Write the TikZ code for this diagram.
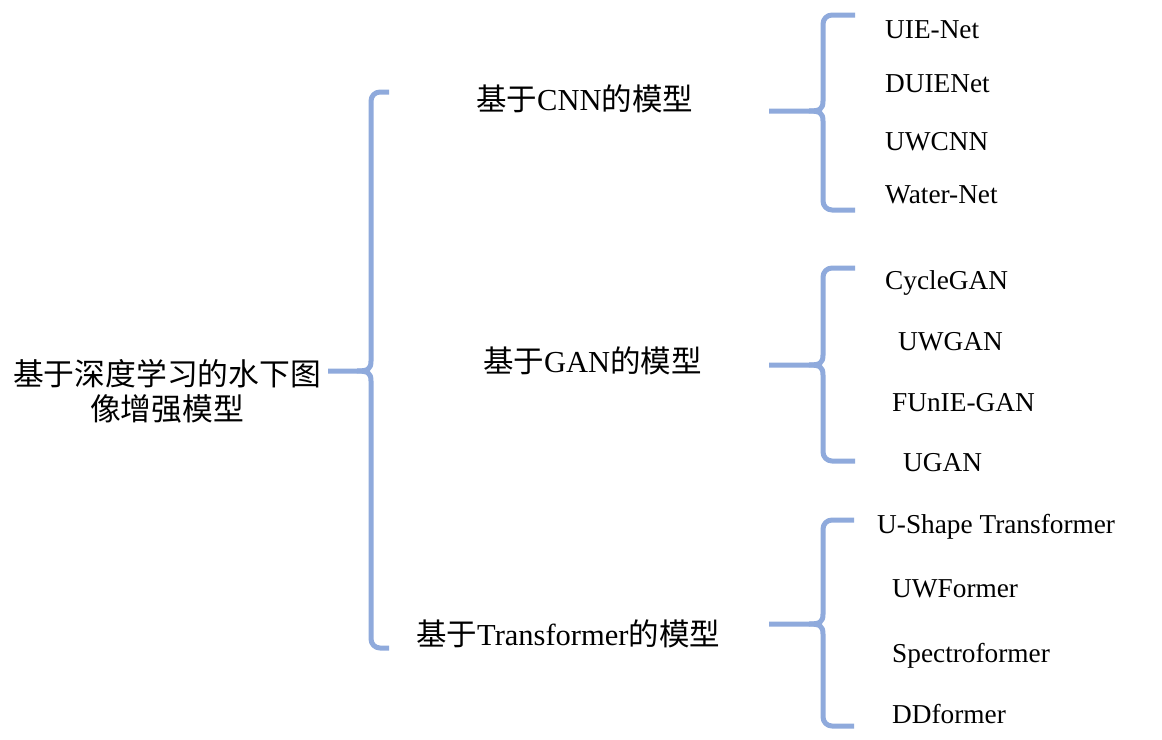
\documentclass[tikz,border=0pt]{standalone}
\usepackage{fontspec}
\setmainfont{Liberation Serif}
\newfontfamily\cjk{Noto Sans CJK SC}
\begin{document}
\begin{tikzpicture}[x=1pt,y=-1pt,
  bracestyle/.style={draw=bracecol,line width=5pt,line cap=butt,line join=round},
  mid/.style={font=\fontsize{30.5}{36}\selectfont,inner sep=0pt,anchor=west,text height=23pt,text depth=7pt},
  leaf/.style={font=\fontsize{27.3}{32}\selectfont,inner sep=0pt,anchor=west,text height=20pt,text depth=6pt},
  rootstyle/.style={font=\fontsize{30.8}{35}\selectfont,inner sep=0pt,align=center}]
\definecolor{bracecol}{RGB}{143,170,220}
\useasboundingbox (0,0) rectangle (1162,739);
\fill[white] (0,0) rectangle (1162,739);
% brace drawing macro: #1 name, #2 stem x, #3 vertical x, #4 top, #5 mid, #6 bottom, #7 end x
\newcommand\mybrace[7]{%
  \coordinate (#1-stem) at (#2,#5);
  \coordinate (#1-cusp) at (#3,#5);
  \coordinate (#1-top) at (#7,#4);
  \coordinate (#1-bot) at (#7,#6);
  \draw[bracestyle,rounded corners=9pt] (#1-top) -- (#3,#4) -- (#3,#5-10);
  \draw[bracestyle,rounded corners=9pt] (#1-bot) -- (#3,#6) -- (#3,#5+10);
  \draw[bracestyle] (#3,#5-10) .. controls (#3,#5-2) and (#3-3,#5) .. (#3-14,#5) -- (#1-stem);
  \draw[bracestyle] (#3,#5+10) .. controls (#3,#5+2) and (#3-3,#5) .. (#3-14,#5);
}
% root
\node[rootstyle] (root) at (167,391) {{\cjk 基于深度学习的水下图}\\{\cjk 像增强模型}};
\mybrace{b0}{328}{371}{92}{371}{648}{389}
% middle nodes
\node[mid] (cnn) at (476,102) {{\cjk 基于}CNN{\cjk 的模型}};
\node[mid] (gan) at (483,364) {{\cjk 基于}GAN{\cjk 的模型}};
\node[mid] (trf) at (416,637) {{\cjk 基于}Transformer{\cjk 的模型}};
\mybrace{b1}{769}{823}{15}{111}{210}{855}
\mybrace{b2}{769}{823}{268}{365}{461}{855}
\mybrace{b3}{769}{823}{520}{624}{726}{854}
% leaves
\node[leaf] (l1) at (885,31) {UIE-Net};
\node[leaf] (l2) at (885,85) {DUIENet};
\node[leaf] (l3) at (885,143) {UWCNN};
\node[leaf] (l4) at (885,196) {Water-Net};
\node[leaf] (l5) at (885,282) {CycleGAN};
\node[leaf] (l6) at (898,343) {UWGAN};
\node[leaf] (l7) at (892,404) {FUnIE-GAN};
\node[leaf] (l8) at (903,464) {UGAN};
\node[leaf] (l9) at (877,526) {U-Shape Transformer};
\node[leaf] (l10) at (892,590) {UWFormer};
\node[leaf] (l11) at (892,655) {Spectroformer};
\node[leaf] (l12) at (892,716) {DDformer};
\end{tikzpicture}
\end{document}
